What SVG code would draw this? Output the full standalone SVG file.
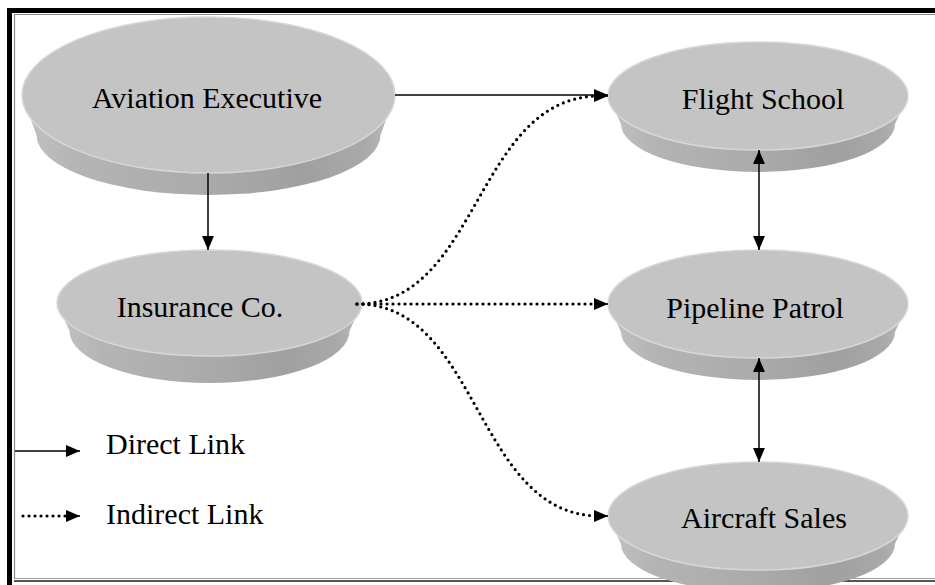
<svg xmlns="http://www.w3.org/2000/svg" width="935" height="585" viewBox="0 0 935 585">
  <defs>
    <linearGradient id="band" x1="0" y1="0" x2="1" y2="0">
      <stop offset="0" stop-color="#c2c2c2"/>
      <stop offset="0.15" stop-color="#b4b4b4"/>
      <stop offset="0.5" stop-color="#aaaaaa"/>
      <stop offset="0.75" stop-color="#a0a0a0"/>
      <stop offset="0.92" stop-color="#a9a9a9"/>
      <stop offset="1" stop-color="#bdbdbd"/>
    </linearGradient>
    <marker id="head" markerUnits="userSpaceOnUse" markerWidth="14" markerHeight="12" viewBox="0 0 13 11" refX="13" refY="5.5" orient="auto-start-reverse">
      <path d="M0,0 L13,5.5 L0,11 Z" fill="#000"/>
    </marker>
  </defs>
  <style>
    .face { fill: #c4c4c4; stroke: #d7d7d7; stroke-width: 1.5; }
    .band { fill: url(#band); }
    .label { font-family: "Liberation Serif", "Times New Roman", serif; font-size: 30px; fill: #000; }
    .direct { fill: none; stroke: #000; stroke-width: 1.5; }
    .indirect { fill: none; stroke: #000; stroke-width: 3.2; stroke-linecap: round; stroke-dasharray: 0 6; }
  </style>

  <!-- page frame: thick-thin border -->
  <g id="frame">
    <rect x="7" y="8" width="5" height="577" fill="#000"/>
    <rect x="7" y="8" width="928" height="5" fill="#000"/>
    <path d="M14.5,578 V14.5 H935" fill="none" stroke="#8a8a8a" stroke-width="1.2"/>
    <path d="M14,578.5 H935" fill="none" stroke="#9a9a9a" stroke-width="1"/>
    <path d="M14,581 H935" fill="none" stroke="#555" stroke-width="2"/>
  </g>

  <!-- nodes: a disc with tapered side band and flat top face -->
  <g id="aviation-executive">
    <path class="band" d="M22,95 L36.5,135 A172,60 0 0 0 380.5,135 L395,95 Z"/>
    <ellipse class="face" cx="208.5" cy="95" rx="186.5" ry="78"/>
    <text class="label" x="207" y="108" text-anchor="middle">Aviation Executive</text>
  </g>

  <g id="insurance-co">
    <path class="band" d="M57,303 L69.5,331 A140,52 0 0 0 349.5,331 L362,303 Z"/>
    <ellipse class="face" cx="209.5" cy="303" rx="152.5" ry="53"/>
    <text class="label" x="200" y="317" text-anchor="middle">Insurance Co.</text>
  </g>

  <g id="flight-school">
    <path class="band" d="M608,96 L621,124 A137,48 0 0 0 895,124 L908,96 Z"/>
    <ellipse class="face" cx="758" cy="96" rx="150" ry="54"/>
    <text class="label" x="763" y="109" text-anchor="middle">Flight School</text>
  </g>

  <g id="pipeline-patrol">
    <path class="band" d="M608,304 L621,332 A137,48 0 0 0 895,332 L908,304 Z"/>
    <ellipse class="face" cx="758" cy="304" rx="150" ry="54"/>
    <text class="label" x="755" y="318" text-anchor="middle">Pipeline Patrol</text>
  </g>

  <g id="aircraft-sales">
    <path class="band" d="M608,516 L621,544 A137,48 0 0 0 895,544 L908,516 Z"/>
    <ellipse class="face" cx="758" cy="516" rx="150" ry="54"/>
    <text class="label" x="764" y="528" text-anchor="middle">Aircraft Sales</text>
  </g>

  <!-- connectors -->
  <g id="connectors">
    <path class="direct" d="M395,95 H608" marker-end="url(#head)"/>
    <path class="direct" d="M208,173 V250" marker-end="url(#head)"/>
    <path class="direct" d="M759,150 V250" marker-start="url(#head)" marker-end="url(#head)"/>
    <path class="direct" d="M759,358 V462" marker-start="url(#head)" marker-end="url(#head)"/>
    <path class="indirect" d="M357,304 C480,304 475,96 600,96"/>
    <path class="direct" d="M599,96 H608" stroke-width="0.1" marker-end="url(#head)"/>
    <path class="indirect" d="M357,304 H600"/>
    <path class="direct" d="M599,304 H608" stroke-width="0.1" marker-end="url(#head)"/>
    <path class="indirect" d="M357,304 C480,304 475,516 600,516"/>
    <path class="direct" d="M599,516 H608" stroke-width="0.1" marker-end="url(#head)"/>
  </g>

  <!-- legend -->
  <g id="legend">
    <path class="direct" d="M15,451 H80" marker-end="url(#head)"/>
    <text class="label" x="106" y="454">Direct Link</text>
    <path class="indirect" d="M23,516 H72"/>
    <path class="direct" d="M71,516 H80" stroke-width="0.1" marker-end="url(#head)"/>
    <text class="label" x="106" y="524">Indirect Link</text>
  </g>
</svg>
